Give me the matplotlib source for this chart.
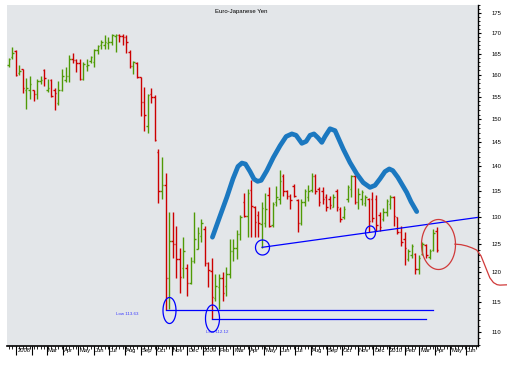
import matplotlib
matplotlib.use("Agg")
import matplotlib.pyplot as plt
import matplotlib.dates as mdates
from matplotlib.path import Path
from matplotlib.ticker import FixedLocator, NullFormatter
from matplotlib.transforms import ScaledTranslation
import numpy as np
import pandas as pd

plt.rcParams["font.family"] = ["Liberation Sans", "DejaVu Sans"]

# ---------------- data ----------------
title = "Euro-Japanese Yen"
first_week = "2007-12-17"

opens = [162.4, 164.1, 165.7, 160.3, 161.3, 156.6, 156.4, 156.4, 155.5, 158.5,
         161.0, 156.6, 158.7, 156.4, 153.6, 156.5, 158.7, 159.6, 163.8, 163.4,
         162.8, 158.9, 162.0, 163.2, 162.9, 165.8, 167.0, 167.2, 167.5, 167.8,
         169.3, 169.5, 169.2, 169.0, 165.3, 162.0, 162.7, 159.4, 153.7, 148.6,
         155.5, 155.0, 142.9, 135.0, 136.3, 119.1, 125.65, 125.0, 122.4, 120.8,
         120.8, 118.1, 122.0, 124.2, 126.5, 127.9, 121.7, 120.3, 115.6, 117.4,
         119.1, 117.7, 119.7, 123.8, 124.4, 126.8, 133.0, 130.3, 135.3, 132.0,
         130.5, 128.7, 129.0, 134.4, 128.5, 133.0, 133.5, 138.0, 135.0, 134.2,
         136.0, 133.3, 129.0, 133.0, 134.0, 135.3, 138.0, 135.5, 135.0, 134.0,
         133.5, 132.0, 135.0, 131.5, 130.0, 133.5, 135.4, 138.0, 132.9, 133.5,
         132.8, 133.5, 133.5, 133.5, 130.5, 129.6, 131.0, 132.5, 134.0, 130.0,
         127.3, 126.0, 122.3, 123.0, 123.3, 120.5, 123.2, 124.8, 122.7, 124.0,
         127.5]
highs = [164.05, 166.5, 165.8, 162.2, 161.4, 159.3, 159.6, 156.6, 158.9, 159.6,
         161.4, 159.1, 159.1, 157.0, 158.5, 161.3, 161.8, 164.6, 165.2, 163.8,
         163.7, 162.9, 163.8, 164.4, 166.2, 167.2, 168.2, 169.5, 169.1, 169.7,
         169.7, 169.9, 169.7, 169.5, 165.8, 163.2, 162.9, 159.5, 157.2, 155.5,
         156.9, 155.3, 143.6, 141.9, 138.6, 131.1, 131.1, 128.4, 124.4, 126.3,
         121.4, 122.7, 131.1, 128.2, 129.7, 128.4, 121.8, 122.5, 119.7, 119.7,
         120.0, 121.0, 126.0, 126.0, 127.6, 130.4, 134.6, 135.4, 137.3, 132.2,
         131.3, 133.0, 134.6, 135.8, 132.9, 136.0, 139.2, 138.4, 135.3, 134.5,
         136.5, 133.5, 133.5, 135.5, 136.3, 138.7, 138.5, 135.8, 135.8, 134.5,
         134.2, 134.5, 135.5, 131.9, 132.2, 136.2, 138.3, 138.3, 135.6, 135.2,
         134.3, 133.7, 134.8, 134.3, 131.0, 131.7, 133.5, 134.3, 134.2, 130.1,
         128.4, 127.2, 124.2, 125.0, 123.5, 123.0, 125.4, 125.0, 124.2, 127.8,
         128.1]
lows = [161.8, 163.6, 159.7, 159.9, 155.8, 152.2, 154.4, 154.1, 154.4, 157.8,
        157.3, 156.0, 154.9, 152.0, 153.2, 156.2, 158.3, 158.3, 162.8, 160.6,
        158.7, 158.7, 160.9, 162.8, 161.8, 164.8, 166.2, 166.2, 166.2, 167.2,
        165.4, 167.7, 167.2, 165.2, 161.6, 160.1, 159.2, 150.6, 147.5, 146.9,
        153.5, 145.2, 132.8, 133.6, 113.63, 113.8, 122.6, 119.1, 116.5, 119.1,
        116.0, 118.0, 121.6, 124.1, 125.5, 121.2, 117.4, 112.12, 115.1, 113.8,
        115.1, 116.0, 119.0, 122.0, 122.3, 125.7, 130.0, 126.3, 126.4, 126.4,
        126.4, 124.4, 128.2, 128.1, 128.2, 132.2, 132.6, 134.2, 133.5, 131.6,
        133.9, 127.2, 128.6, 132.2, 133.2, 134.8, 134.5, 132.2, 132.6, 131.3,
        131.6, 131.9, 131.3, 129.2, 129.7, 132.9, 133.9, 132.6, 131.6, 132.4,
        132.2, 127.2, 129.1, 127.5, 127.5, 129.4, 130.3, 131.6, 128.3, 126.9,
        124.7, 121.3, 122.0, 122.6, 119.7, 119.8, 123.0, 122.6, 122.3, 123.8,
        123.6]
closes = [163.8, 165.25, 159.9, 160.8, 156.9, 156.9, 157.8, 155.6, 158.5, 158.7,
          159.2, 157.0, 155.1, 155.9, 156.4, 159.6, 159.6, 163.8, 163.4, 162.8,
          158.9, 162.6, 162.4, 164.2, 165.8, 166.8, 167.8, 167.7, 167.8, 169.5,
          169.5, 169.2, 169.0, 167.7, 162.0, 162.9, 159.5, 153.7, 150.8, 155.3,
          154.9, 145.4, 135.0, 136.3, 119.1, 125.65, 125.0, 122.4, 119.2, 123.8,
          118.2, 122.0, 126.0, 127.1, 128.9, 121.7, 120.4, 115.8, 117.6, 119.0,
          116.5, 119.7, 123.8, 124.4, 126.8, 130.0, 130.3, 134.6, 132.2, 129.2,
          128.9, 131.7, 131.6, 128.3, 132.6, 134.0, 137.0, 135.0, 134.2, 133.3,
          134.2, 129.0, 133.0, 135.0, 135.0, 138.0, 135.0, 133.0, 133.5, 132.0,
          132.4, 134.0, 132.0, 129.6, 131.6, 135.8, 138.0, 132.9, 134.5, 134.8,
          134.0, 129.4, 129.8, 128.5, 128.2, 131.0, 133.2, 134.0, 130.3, 127.3,
          125.5, 124.4, 123.8, 124.7, 120.5, 122.5, 125.0, 123.0, 123.8, 127.0,
          124.0]

y_ticks = [110, 115, 120, 125, 130, 135, 140, 145, 150, 155, 160, 165, 170, 175]
month_labels = ["Dec", "2008", "", "Mar", "Apr", "May", "Jun", "Jul", "Aug", "Sep",
                "Oct", "Nov", "Dec", "2009", "Feb", "Mar", "Apr", "May", "Jun",
                "Jul", "Aug", "Sep", "Oct", "Nov", "Dec", "2010", "Feb", "Mar",
                "Apr", "May", "Jun"]

# annotations (x in weeks after first bar, y in price)
hs_weeks = [57.14, 59.0, 61.2, 62.9, 64.3, 65.4, 66.4, 67.7, 68.8, 69.8, 70.8,
            72.4, 74.2, 76.1, 77.8, 79.4, 80.6, 82.2, 83.4, 84.5, 85.6, 86.7,
            87.8, 88.7, 90.1, 91.5, 93.8, 95.7, 97.6, 99.4, 101.3, 102.7, 104.1,
            105.5, 106.7, 107.7, 109.1, 111.6, 112.8, 114.4]
hs_prices = [126.3, 129.75, 133.9, 137.5, 140.0, 140.7, 140.5, 138.96, 137.45,
             137.0, 137.2, 139.16, 141.83, 144.3, 146.25, 146.8, 146.5, 144.8,
             145.2, 146.5, 146.8, 146.0, 145.0, 146.25, 147.9, 147.5, 143.6,
             140.8, 138.5, 136.75, 135.8, 136.2, 137.5, 138.96, 139.5, 139.16,
             137.8, 134.8, 133.0, 131.1]

neck_weeks = [71.06, 131.57]
neck_prices = [124.45, 130.0]

support_start_weeks = [44.0, 57.0]
support_end_weeks = [118.9, 117.0]
support_levels = [113.63, 112.12]
support_labels = ["Low 113.63", "Low 112.12"]
support_label_weeks = [30.2, 55.3]
support_label_prices = [112.96, 110.03]

# blue rings: week, price, width px, height px
ring_weeks = [71.06, 101.3, 45.1, 57.06]
ring_prices = [124.45, 127.26, 113.6, 112.33]
ring_w = [14, 10, 13, 14]
ring_h = [15, 13, 26, 27]

red_ring = (120.4, 125.1, 34, 50)
tail_weeks = [125.1, 126.8, 128.4, 129.9, 131.2, 132.4, 133.2, 134.1, 134.9,
              135.9, 136.9, 137.7, 139.6]
tail_prices = [125.03, 124.94, 124.7, 124.35, 123.96, 122.93, 121.68, 120.26,
               119.04, 118.23, 117.87, 117.79, 117.84]

up_color = "#4f9a06"
down_color = "#cc0000"
thick_blue = "#1b78c0"

# ---------------- figure ----------------
W, H = 507, 366
fig = plt.figure(figsize=(W / 100, H / 100), dpi=100)
fig.patch.set_facecolor("white")
ax = fig.add_axes([7 / W, 1 - 346 / H, 471 / W, 341 / H])
ax.set_facecolor("#e3e6e9")

t0 = pd.Timestamp(first_week)
dates = pd.date_range(first_week, periods=len(opens), freq="7D")
xd = mdates.date2num(dates)


def wk(w):
    return mdates.date2num(t0 + pd.to_timedelta(np.asarray(w, dtype=float) * 7, unit="D"))


o = np.array(opens); hi = np.array(highs); lo = np.array(lows); c = np.array(closes)
cols = np.where(c >= o, up_color, down_color)
tick = 3.0
ax.vlines(xd, lo, hi, colors=cols, lw=1.0)
ax.hlines(o, xd - tick, xd, colors=cols, lw=1.0)
ax.hlines(c, xd, xd + tick, colors=cols, lw=1.0)

ax.set_yscale("log")

# annotations
ax.plot(wk(hs_weeks), hs_prices, color=thick_blue, lw=3.4,
        solid_capstyle="round", solid_joinstyle="round", zorder=5)
ax.plot(wk(neck_weeks), neck_prices, color="#0000ff", lw=0.9, zorder=6)
for s, e, lv in zip(support_start_weeks, support_end_weeks, support_levels):
    ax.plot(wk([s, e]), [lv, lv], color="#0000ff", lw=0.9, zorder=6)
for lw_, lp, lt in zip(support_label_weeks, support_label_prices, support_labels):
    ax.text(wk(lw_), lp, lt, color="#3a3aff", fontsize=3.2, ha="left", va="center")

theta = np.linspace(0, 2 * np.pi, 80)


def ring_marker(wpx, hpx):
    r = wpx / hpx
    return Path(np.column_stack([r * np.cos(theta), np.sin(theta)]))


for rw, rp, a, b in zip(ring_weeks, ring_prices, ring_w, ring_h):
    ax.plot([wk(rw)], [rp], ls="none", marker=ring_marker(a, b), ms=b * 0.72,
            mfc="none", mec="#0000ff", mew=0.9, zorder=7)

ax.plot([wk(red_ring[0])], [red_ring[1]], ls="none",
        marker=ring_marker(red_ring[2], red_ring[3]), ms=red_ring[3] * 0.72,
        mfc="none", mec="#d03a3a", mew=0.9, zorder=7)
ax.plot(wk(tail_weeks), tail_prices, color="#d03a3a", lw=0.9, clip_on=False, zorder=7)

# axes styling
for s in ["left", "top"]:
    ax.spines[s].set_visible(False)
ax.spines["right"].set_linewidth(1.0)
ax.spines["bottom"].set_linewidth(1.2)

ax.yaxis.tick_right()
ax.yaxis.set_major_locator(FixedLocator(y_ticks))
ax.set_yticklabels([str(v) for v in y_ticks])
ax.yaxis.set_minor_locator(FixedLocator(np.arange(108, 178, 1)))
ax.yaxis.set_minor_formatter(NullFormatter())
ax.tick_params(axis="y", which="major", length=2.5, width=0.8, pad=7, labelsize=4.2)
ax.tick_params(axis="y", which="minor", length=1.5, width=0.6)

months = pd.date_range("2007-12-01", periods=len(month_labels), freq="MS")
ax.set_xticks(mdates.date2num(months))
ax.set_xticklabels(month_labels)
ax.xaxis.set_minor_locator(mdates.WeekdayLocator(byweekday=mdates.MO))
ax.tick_params(axis="x", which="major", length=6.5, width=0.8, pad=-5.2, labelsize=4.2)
ax.tick_params(axis="x", which="minor", length=1.8, width=0.6)
off = ScaledTranslation(1.2 / 100, 0, fig.dpi_scale_trans)
for lab in ax.get_xticklabels():
    lab.set_ha("left")
    lab.set_transform(lab.get_transform() + off)

# limits set after the ticks so they are not widened
ax.set_ylim(107.8, 177.1)
ax.set_xlim(mdates.date2num(pd.Timestamp("2007-12-14")),
            mdates.date2num(pd.Timestamp("2010-06-25")))

fig.text(241.7 / W, 1 - 11 / H, title, ha="center", va="center", fontsize=4.3)

fig.savefig("out.png", dpi=100)
